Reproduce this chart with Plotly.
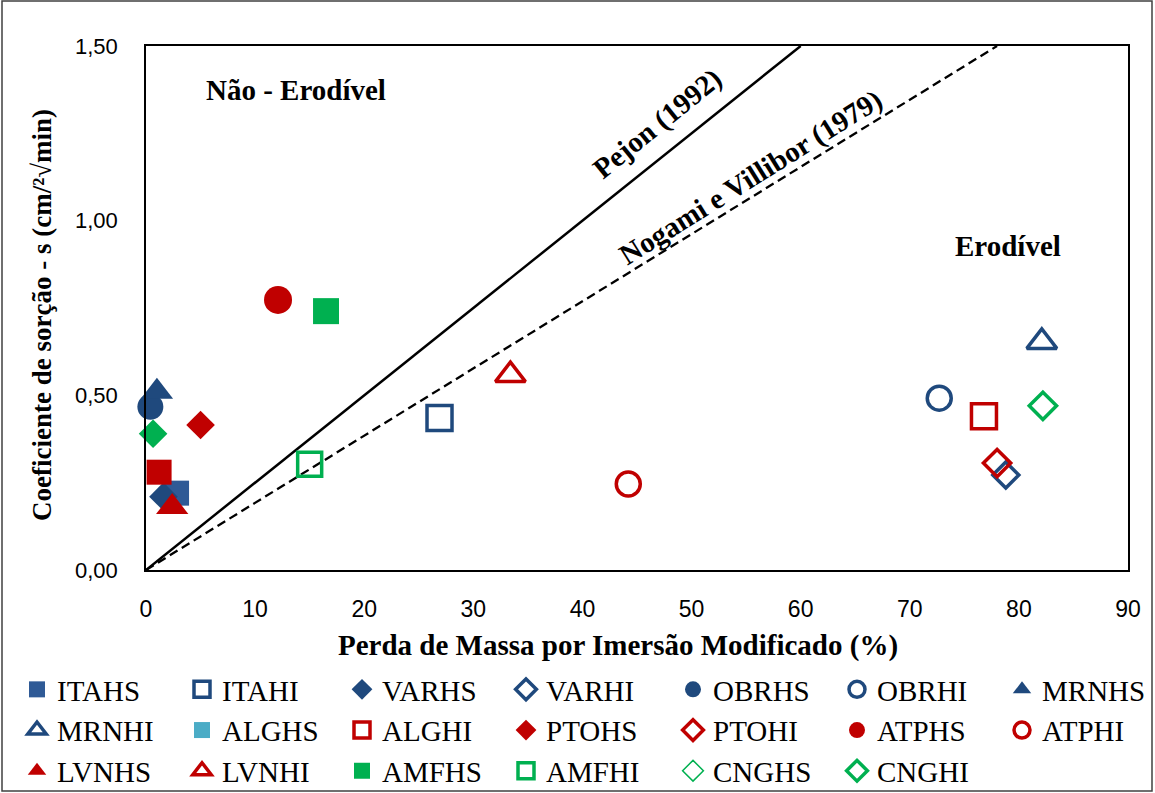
import plotly.graph_objects as go

# ---------------- data ----------------
names = ["ITAHS", "ITAHI", "VARHS", "VARHI", "OBRHS", "OBRHI", "MRNHS",
         "MRNHI", "ALGHS", "ALGHI", "PTOHS", "PTOHI", "ATPHS", "ATPHI",
         "LVNHS", "LVNHI", "AMFHS", "AMFHI", "CNGHS", "CNGHI"]
perda_massa = [2.8, 26.9, 1.6, 78.8, 0.4, 72.7, 1.0,
               82.1, 1.2, 76.8, 5.0, 78.0, 12.1, 44.2,
               2.4, 33.4, 16.5, 15.0, 0.65, 82.2]
sorcao = [0.22, 0.435, 0.21, 0.272, 0.467, 0.492, 0.51,
          0.653, 0.28, 0.44, 0.415, 0.306, 0.773, 0.246,
          0.18, 0.558, 0.741, 0.303, 0.39, 0.47]

# criteria lines
pejon_x = [0, 60]
pejon_y = [0, 1.5]
nogami_x = [0, 78]
nogami_y = [0, 1.5]

x_ticks = [0, 10, 20, 30, 40, 50, 60, 70, 80, 90]
y_ticks = [0.0, 0.5, 1.0, 1.5]

x_title = "Perda de Massa por Imersão Modificado (%)"
y_title = "Coeficiente de sorção - s (cm/²√min)"

# ---------------- styles ----------------
BLUE = "#1F497D"
BLUE2 = "#2F5A96"
RED = "#C00000"
GREEN = "#00B050"
LBLUE = "#4BACC6"

style = {
    "ITAHS": ("square", BLUE2, 25, 0),
    "ITAHI": ("square-open", BLUE, 25, 3.5),
    "VARHS": ("diamond", BLUE, 22, 0),
    "VARHI": ("diamond-open", BLUE, 20, 3.5),
    "OBRHS": ("circle", BLUE, 26, 0),
    "OBRHI": ("circle-open", BLUE, 24, 3.5),
    "MRNHS": ("triangle-up", BLUE, 28, 0),
    "MRNHI": ("triangle-up-open", BLUE, 26, 3.5),
    "ALGHS": ("square", RED, 25, 0),
    "ALGHI": ("square-open", RED, 25, 3.5),
    "PTOHS": ("diamond", RED, 22, 0),
    "PTOHI": ("diamond-open", RED, 21, 3.5),
    "ATPHS": ("circle", RED, 28, 0),
    "ATPHI": ("circle-open", RED, 24, 3.5),
    "LVNHS": ("triangle-up", RED, 28, 0),
    "LVNHI": ("triangle-up-open", RED, 26, 3.5),
    "AMFHS": ("square", GREEN, 26, 0),
    "AMFHI": ("square-open", GREEN, 24, 3.5),
    "CNGHS": ("diamond", GREEN, 22, 0),
    "CNGHI": ("diamond-open", GREEN, 21, 3.5),
}
legend_override = {
    "ALGHS": ("square", LBLUE, 25, 0),
    "CNGHS": ("diamond-open", GREEN, 16, 1.5),
}

# legend columns (7 columns, row-major order of names)
n_cols = 7
col_left_px = [17, 182, 342, 506, 673, 837, 1002]
legend_top_px = 664
W, H = 1155, 793
ML, MR, MT, MB = 146, 27, 46, 223
PW, PH = W - ML - MR, H - MT - MB

fig = go.Figure()

fig.add_trace(go.Scatter(x=pejon_x, y=pejon_y, mode="lines",
                         line=dict(color="black", width=2.5),
                         showlegend=False, hoverinfo="skip"))
fig.add_trace(go.Scatter(x=nogami_x, y=nogami_y, mode="lines",
                         line=dict(color="black", width=2.3, dash="9px,5px"),
                         showlegend=False, hoverinfo="skip"))

def legend_id(i):
    c = i % n_cols
    return "legend" if c == 0 else "legend%d" % (c + 1)

for i, n in enumerate(names):
    sym, col, sz, lw = style[n]
    mk = dict(symbol=sym, color=col, size=sz, line=dict(width=lw, color=col))
    lg = legend_id(i)
    if n in legend_override:
        lsym, lcol, lsz, llw = legend_override[n]
        fig.add_trace(go.Scatter(x=[None], y=[None], mode="markers", name=n,
                                 marker=dict(symbol=lsym, color=lcol, size=lsz,
                                             line=dict(width=llw, color=lcol)),
                                 legend=lg))
        fig.add_trace(go.Scatter(x=[perda_massa[i]], y=[sorcao[i]], mode="markers",
                                 name=n, marker=mk, showlegend=False,
                                 cliponaxis=False))
    else:
        fig.add_trace(go.Scatter(x=[perda_massa[i]], y=[sorcao[i]], mode="markers",
                                 name=n, marker=mk, cliponaxis=False, legend=lg))

SERIF = "Liberation Serif, Times New Roman, serif"
BOLD = dict(family=SERIF, size=29, color="black")

annots = [
    dict(x=13.75, y=1.374, text="<b>Não - Erodível</b>", textangle=0),
    dict(x=79.0, y=0.928, text="<b>Erodível</b>", textangle=0),
    dict(x=46.9, y=1.277, text="<b>Pejon (1992)</b>", textangle=-39),
    dict(x=55.4, y=1.125, text="<b>Nogami e Villibor (1979)</b>", textangle=-32),
]
for a in annots:
    fig.add_annotation(x=a["x"], y=a["y"], text=a["text"], textangle=a["textangle"],
                       showarrow=False, font=BOLD, xref="x", yref="y")

# axis titles (as annotations for precise placement)
fig.add_annotation(x=(618 - ML) / PW, y=(MT + PH - 645) / PH, xref="paper", yref="paper",
                   text="<b>%s</b>" % x_title, showarrow=False, font=BOLD,
                   xanchor="center", yanchor="middle")
fig.add_annotation(x=(42 - ML) / PW, y=(MT + PH - 315) / PH, xref="paper", yref="paper",
                   text="<b>%s</b>" % y_title, showarrow=False, textangle=-90,
                   font=dict(family=SERIF, size=27, color="black"),
                   xanchor="center", yanchor="middle")

# outer chart frame
fig.add_shape(type="rect", xref="paper", yref="paper",
              x0=(2 - ML) / PW, x1=(1152 - ML) / PW,
              y0=(MT + PH - 791) / PH, y1=(MT + PH - 1) / PH,
              line=dict(color="#404040", width=1.5), layer="below")

legend_common = dict(orientation="v", xref="container", yref="container",
                     xanchor="left", yanchor="top",
                     font=dict(family=SERIF, size=29, color="black"),
                     bgcolor="rgba(0,0,0,0)", itemsizing="trace",
                     traceorder="normal", borderwidth=0)
layout_legends = {}
for c in range(n_cols):
    key = "legend" if c == 0 else "legend%d" % (c + 1)
    layout_legends[key] = dict(legend_common, x=col_left_px[c] / W,
                               y=1 - legend_top_px / H)

fig.update_layout(
    width=W, height=H,
    margin=dict(l=ML, r=MR, t=MT, b=MB, autoexpand=False),
    paper_bgcolor="white", plot_bgcolor="white",
    separators=",.",
    showlegend=True,
    xaxis=dict(range=[0, 90], tickvals=x_ticks, showgrid=False, zeroline=False,
               showline=True, mirror=True, linecolor="black", linewidth=1.5,
               ticks="", ticklabelstandoff=18,
               tickfont=dict(family="Liberation Sans Narrow, Liberation Sans, Arial",
                             size=23, color="black")),
    yaxis=dict(range=[0, 1.5], tickvals=y_ticks, tickformat=".2f",
               showgrid=False, zeroline=False,
               showline=True, mirror=True, linecolor="black", linewidth=1.5,
               ticks="", ticklabelstandoff=22,
               tickfont=dict(family="Liberation Sans, Arial", size=22, color="black")),
    **layout_legends,
)

fig.write_html("out.html", config={"displayModeBar": False},
               post_script="document.body.style.margin='0';document.body.style.overflow='hidden';")
